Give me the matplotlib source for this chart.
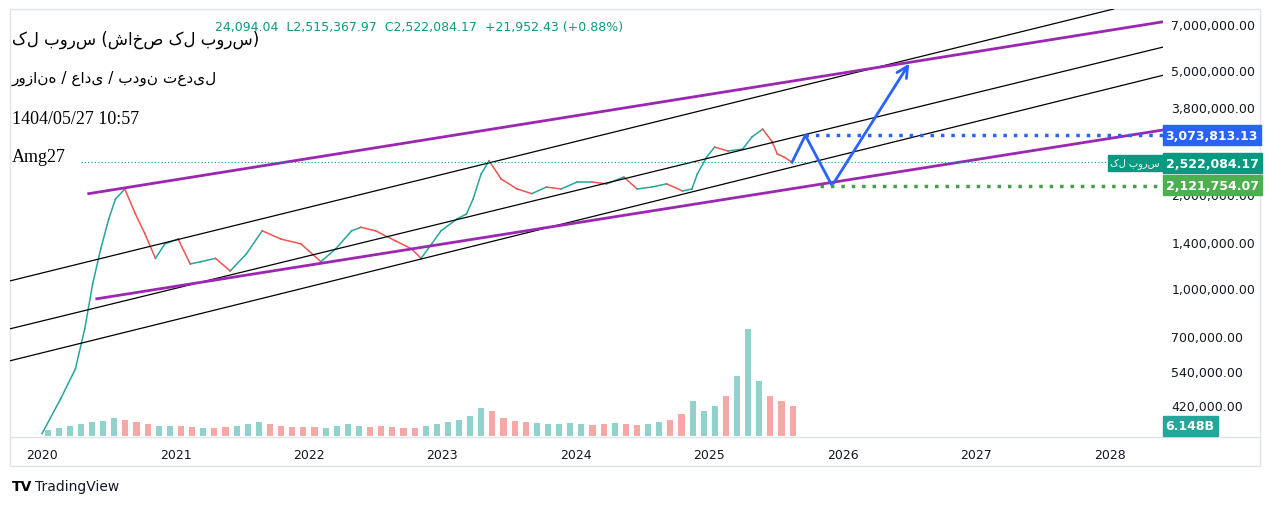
import matplotlib
matplotlib.use("Agg")
import matplotlib.pyplot as plt
import numpy as np

# ---- data ----
price_t = [2020.00,2020.14,2020.25,2020.32,2020.38,2020.44,2020.50,2020.55,2020.62,2020.70,2020.77,2020.85,2020.92,
           2021.02,2021.11,2021.19,2021.30,2021.41,2021.53,2021.65,2021.79,2021.94,2022.09,2022.20,2022.32,2022.39,
           2022.50,2022.65,2022.77,2022.84,2022.92,2022.99,2023.11,2023.18,2023.23,2023.29,2023.35,2023.44,2023.56,
           2023.67,2023.78,2023.89,2024.01,2024.12,2024.23,2024.36,2024.46,2024.57,2024.68,2024.80,2024.87,2024.91,
           2024.98,2025.04,2025.14,2025.25,2025.32,2025.40,2025.47,2025.51,2025.56,2025.62]
price_v = [340e3,440e3,548e3,737e3,1.03e6,1.33e6,1.66e6,1.92e6,2.07e6,1.72e6,1.49e6,1.24e6,1.38e6,
           1.43e6,1.19e6,1.21e6,1.24e6,1.13e6,1.28e6,1.52e6,1.43e6,1.38e6,1.21e6,1.33e6,1.52e6,1.56e6,
           1.52e6,1.41e6,1.33e6,1.24e6,1.38e6,1.52e6,1.66e6,1.72e6,1.92e6,2.31e6,2.55e6,2.23e6,2.07e6,
           2.0e6,2.10e6,2.07e6,2.18e6,2.18e6,2.15e6,2.26e6,2.07e6,2.10e6,2.15e6,2.04e6,2.07e6,2.31e6,
           2.62e6,2.82e6,2.74e6,2.78e6,3.04e6,3.22e6,2.94e6,2.68e6,2.62e6,2.522084e6]
vol = [6,8,10,12,14,15,18,16,14,12,10,10,
       10,9,8,8,9,10,12,14,12,10,9,9,
       9,8,10,12,10,9,10,9,8,8,10,12,
       14,16,20,28,25,18,15,14,13,12,12,13,
       12,11,12,13,12,11,12,14,16,22,35,25,
       30,40,60,107,55,40,35,30]
vol_t = [2020.0 + i/12 for i in range(len(vol))]

upper_purple = ([2020.35, 2028.44], [2.0e6, 7.16e6])
lower_purple = ([2020.41, 2028.44], [0.92e6, 3.22e6])
black_lines = [([2019.76, 2028.03], [1.05e6, 7.82e6]),
               ([2019.76, 2028.44], [0.737e6, 5.96e6]),
               ([2019.76, 2028.44], [0.582e6, 4.84e6])]
path_t = [2025.62, 2025.72, 2025.92]
path_v = [2.522e6, 3.073813e6, 2.121754e6]
arrow_end = (2026.51, 5.32e6)
last_price = 2522084.17
target_hi = 3073813.13
target_lo = 2121754.07
yticks = [420e3, 540e3, 700e3, 1.0e6, 1.4e6, 2.0e6, 3.8e6, 5.0e6, 7.0e6]
xyears = list(range(2020, 2029))

W, H = 1273, 506
fig = plt.figure(figsize=(W/100, H/100), dpi=100)
fig.patch.set_facecolor("white")
L, R, T, B = 10, 1163, 10, 437
ax = fig.add_axes([L/W, 1-B/H, (R-L)/W, (B-T)/H])
x0, x1 = 2019.76, 2028.40
ax.set_xlim(x0, x1)
ax.set_yscale("log")
ax.set_ylim(334e3, 7.82e6)
for s in ax.spines.values():
    s.set_visible(False)

# volume
axv = fig.add_axes(ax.get_position(), sharex=ax)
axv.set_ylim(0, max(vol) * 427 / 107)
axv.axis("off")
axv.patch.set_alpha(0)
for t, v in zip(vol_t, vol):
    p_now = np.interp(t + 1/12, price_t, price_v)
    p_prev = np.interp(t, price_t, price_v)
    c = "#26a69a" if p_now >= p_prev else "#ef5350"
    axv.bar(t + 1/24, v, width=1/12 * 0.55, color=c, alpha=0.5)
ax.set_zorder(axv.get_zorder() + 1)
ax.patch.set_alpha(0)

# price segments
for i in range(1, len(price_t)):
    c = "#26a69a" if price_v[i] >= price_v[i-1] else "#ef5350"
    ax.plot(price_t[i-1:i+1], price_v[i-1:i+1], color=c, lw=1.1)

for xs, ys in black_lines:
    ax.plot(xs, ys, color="black", lw=0.9)
ax.plot(*upper_purple, color="#9c27b0", lw=2)
ax.plot(*lower_purple, color="#9c27b0", lw=2)

ax.plot(path_t, path_v, color="#2962ff", lw=2)
ax.annotate("", xy=arrow_end, xytext=(path_t[-1], path_v[-1]),
            arrowprops=dict(arrowstyle="->", color="#2962ff", lw=2, mutation_scale=20))
ax.hlines(target_hi, path_t[1], x1, colors="#2962ff", linestyles=(0, (1, 2)), lw=2.5)
ax.hlines(target_lo, 2025.83, x1, colors="#43a047", linestyles=(0, (1, 2)), lw=2.5)
ax.hlines(last_price, 2020.29, x1, colors="#089981", linestyles=(0, (1, 2)), lw=0.8)

ax.set_yticks(yticks)
ax.set_yticklabels([f"{v:,.2f}" for v in yticks])
ax.yaxis.tick_right()
ax.tick_params(axis="y", length=0, pad=6, labelsize=9, labelcolor="#131722")
ax.set_yticks([], minor=True)
ax.set_xticks(xyears)
ax.set_xticklabels([str(y) for y in xyears])
ax.tick_params(axis="x", length=0, pad=9, labelsize=9, labelcolor="#131722")

# frame
fig.add_artist(plt.Rectangle((10/W, 1-467/H), 1250/W, 457/H, fill=False, ec="#e0e3eb", lw=1))
fig.add_artist(plt.Line2D([10/W, 1260/W], [1-438/H, 1-438/H], color="#e0e3eb", lw=1))

def box(ypx, text, color, x=1165):
    fig.text(x/W + 0.0005, 1-ypx/H, text, color="white", fontsize=9, fontweight="bold", va="center", ha="left",
             bbox=dict(boxstyle="square,pad=0.25", fc=color, ec=color))
box(136, "3,073,813.13", "#2962ff")
box(164, "2,522,084.17", "#089981")
box(186, "2,121,754.07", "#4caf50")
box(427, "6.148B", "#26a69a")
fig.text(1160/W, 1-164/H, "کل بورس", color="white", fontsize=7, va="center", ha="right",
         bbox=dict(boxstyle="square,pad=0.3", fc="#089981", ec="#089981"))

fig.text(215/W, 1-28/H, "24,094.04  L2,515,367.97  C2,522,084.17  +21,952.43 (+0.88%)",
         color="#089981", fontsize=9, va="center")
fig.text(12/W, 1-40/H, "کل بورس (شاخص کل بورس)", fontsize=12, va="center", family="DejaVu Sans")
fig.text(12/W, 1-78/H, "روزانه / عادی / بدون تعدیل", fontsize=11, va="center", family="DejaVu Sans")
fig.text(12/W, 1-120/H, "1404/05/27 10:57", fontsize=13, va="center", family="Liberation Serif")
fig.text(12/W, 1-157/H, "Amg27", fontsize=13, va="center", family="Liberation Serif")
fig.text(12/W, 1-487/H, "TV", fontsize=10, fontweight="bold", va="center")
fig.text(35/W, 1-487/H, "TradingView", fontsize=10, va="center", color="#131722")

fig.savefig("out.png", dpi=100)
